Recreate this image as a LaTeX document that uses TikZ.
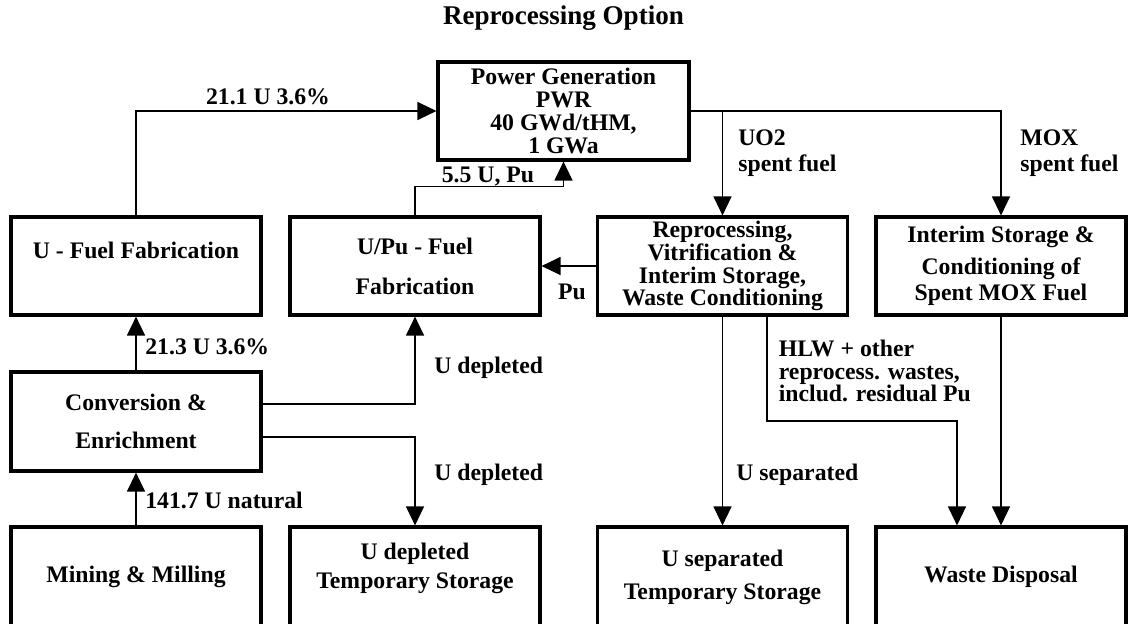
\documentclass[tikz,border=0pt]{standalone}
\usepackage{fontspec}
\setmainfont{Liberation Serif}
\usetikzlibrary{arrows.meta}

\begin{document}
\begin{tikzpicture}[x=0.02cm, y=-0.02cm, >={Triangle[length=0.38cm, width=0.36cm]},
    font=\fontsize{13.5}{13}\selectfont\bfseries,
    box/.style={draw, line width=1.8pt, align=center, inner sep=0pt, minimum width=5cm, minimum height=1.96cm},
    flow/.style={->, line width=0.7pt},
    lbl/.style={inner sep=0pt, align=left, anchor=west}]
    \useasboundingbox (0,0) rectangle (1128,623);
    \node[font=\fontsize{15.4}{18}\selectfont\bfseries] (title) at (563.5,18) {Reprocessing Option};

    % boxes
    \node[box, minimum width=5.02cm] (pg) at (563.5,111) {Power Generation\\PWR\\40 GWd/tHM,\\1 GWa};
    \node[box] (ufab) at (136,266) {U - Fuel Fabrication\rule[-0.64cm]{0pt}{0.64cm}};
    \node[box] (upufab) at (415,266) {U/Pu - Fuel\\[0.34cm]Fabrication};
    \node[box] (repro) at (722.5,266) {Reprocessing,\\Vitrification \&\\Interim Storage,\\Waste Conditioning};
    \node[box] (moxst) at (1001,266) {Interim Storage \&\\[0.18cm]Conditioning of\\[0.06cm]Spent MOX Fuel};
    \node[box, minimum height=1.98cm] (conv) at (136,421.5) {Conversion \&\\[0.3cm]Enrichment};
    \node[box, minimum height=2cm] (mining) at (136,577) {Mining \& Milling};
    \node[box, minimum height=2cm] (udepst) at (415,577) {U depleted\\[0.14cm]Temporary Storage\rule[-0.45cm]{0pt}{0.45cm}};
    \node[box, minimum height=2cm] (usepst) at (722.5,577) {U separated\\[0.2cm]Temporary Storage};
    \node[box, minimum height=2cm] (disposal) at (1001,577) {Waste Disposal};

    % flows
    \draw[flow] (ufab.north) |- (pg.west);
    \draw[flow] (upufab.north) -- ++(0,-29) -| (pg.south);
    \draw[flow] (pg.east) -| (moxst.north);
    \draw[flow] (pg.east -| repro.north) -- (repro.north);
    \draw[flow] (repro.west) -- (upufab.east);
    \draw[flow] (conv.north) -- (ufab.south);
    \draw[flow] (conv.east |- 0,404) -| (upufab.south);
    \draw[flow] (conv.east |- 0,437) -| (udepst.north);
    \draw[flow] (mining.north) -- (conv.south);
    \draw[flow] (repro.south) -- (usepst.north);
    \coordinate (hlwturn) at (957,421);
    \draw[flow] (repro.south -| 767,0) |- (hlwturn) -- (hlwturn |- disposal.north);
    \draw[flow] (moxst.south) -- (disposal.north);

    % labels
    \node[inner sep=0pt] (l211) at (268,97) {21.1 U 3.6\%};
    \node[inner sep=0pt] (l55) at (488,177) {5.5 U, Pu};
    \node[lbl] (luo2) at (738,153) {UO2\\[0.06cm]spent fuel};
    \node[lbl] (lmox) at (1020,153) {MOX\\[0.06cm]spent fuel};
    \node[inner sep=0pt] (lpu) at (572,292) {Pu};
    \node[lbl] (l213) at (145,347) {21.3 U 3.6\%};
    \node[lbl] (ldep1) at (434,368) {U depleted};
    \node[lbl] (ldep2) at (434,475) {U depleted};
    \node[lbl] (lnat) at (145,500) {141.7 U natural};
    \node[lbl] (lsep) at (736,475) {U separated};
    \node[lbl] (lhlw) at (778.5,371) {HLW + other\\reprocess. wastes,\\includ. residual Pu};
\end{tikzpicture}
\end{document}
